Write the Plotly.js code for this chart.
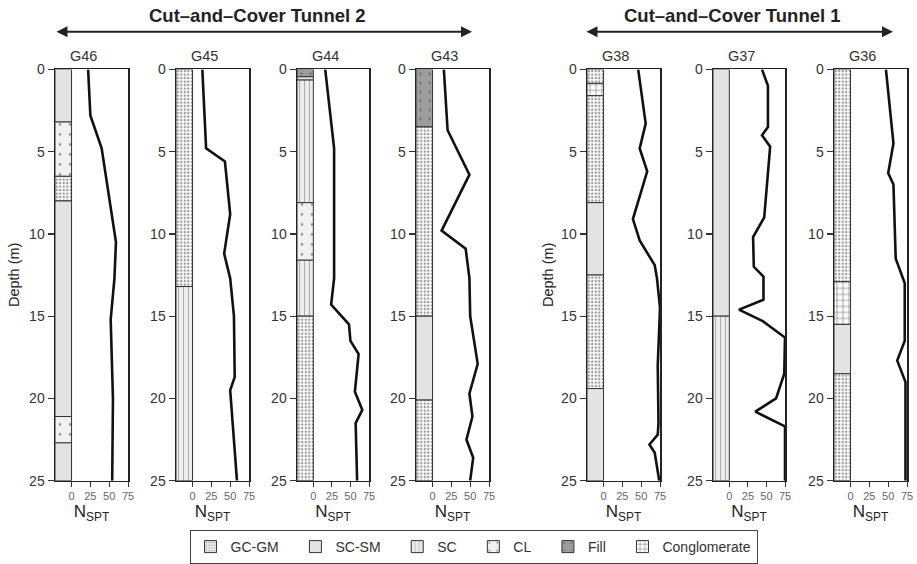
<!DOCTYPE html>
<html><head><meta charset="utf-8">
<script src="https://cdn.plot.ly/plotly-3.0.1.min.js"></script>
<style>html,body{margin:0;padding:0;background:#fff}#chart{width:917px;height:564px}</style>
</head><body><div id="chart"></div>
<script>
const boreholes = ['G46','G45','G44','G43','G38','G37','G36'];
const soilTypes = ['GC-GM','SC-SM','SC','CL','Fill','Conglomerate'];
const depthTicks = [0,5,10,15,20,25];
const nTicks = [0,25,50,75];
const groupTitles = ['Cut–and–Cover Tunnel 2','Cut–and–Cover Tunnel 1'];

// N_SPT profiles (depth in m, N value)
const g46Depth = [0, 2.8, 4.8, 10.5, 12.7, 15.2, 20, 25];
const g46N     = [22, 25, 40, 59, 57, 52, 55, 54];
const g45Depth = [0, 4.8, 5.6, 8.8, 11.2, 12.7, 15, 18.7, 19.5, 25];
const g45N     = [13, 18, 43, 50, 42, 50, 55, 56, 50, 59];
const g44Depth = [0, 4.8, 12.7, 14.3, 15.5, 16.5, 17.3, 19.6, 20.7, 21.5, 25];
const g44N     = [16, 28, 28, 24, 48, 50, 61, 56, 66, 57, 59];
const g43Depth = [0, 3.7, 6.4, 9.8, 10.9, 12.7, 15, 17.9, 19.7, 21.1, 22.5, 23.6, 25];
const g43N     = [15, 20, 49, 12, 44, 49, 50, 60, 49, 53, 45, 54, 50];
const g38Depth = [0, 3.3, 4.8, 6.2, 9.1, 10.4, 11.9, 12.7, 14.5, 18, 21.5, 22.2, 22.8, 23.3, 25];
const g38N     = [46, 56, 48, 58, 39, 48, 68, 71, 75, 72, 73, 72, 61, 68, 74];
const g37Depth = [0, 1, 3.5, 4, 4.7, 9, 10.2, 12, 12.6, 14, 14.6, 15.3, 16.3, 18.5, 20, 20.8, 21.7, 25];
const g37N     = [44, 52, 52, 44, 55, 47, 32, 33, 46, 46, 13, 45, 75, 74, 63, 35, 75, 75];
const g36Depth = [0, 4.5, 6.3, 7, 11.5, 13, 16.5, 17.7, 19, 25];
const g36N     = [47, 57, 50, 57, 60, 72, 72, 62, 73, 73];

// Strata (top, bottom, soil type)
const g46Top = [0, 3.2, 6.5, 8.0, 21.1, 22.7];
const g46Bot = [3.2, 6.5, 8.0, 21.1, 22.7, 25];
const g46Soil = ['SC-SM','CL','GC-GM','SC-SM','CL','SC-SM'];
const g45Top = [0, 13.2];
const g45Bot = [13.2, 25];
const g45Soil = ['GC-GM','SC'];
const g44Top = [0, 0.45, 0.65, 8.1, 11.6, 15];
const g44Bot = [0.45, 0.65, 8.1, 11.6, 15, 25];
const g44Soil = ['Fill','SC-SM','SC','CL','SC','GC-GM'];
const g43Top = [0, 3.5, 15, 20.1];
const g43Bot = [3.5, 15, 20.1, 25];
const g43Soil = ['Fill','GC-GM','SC-SM','GC-GM'];
const g38Top = [0, 0.85, 1.6, 8.1, 12.5, 19.4];
const g38Bot = [0.85, 1.6, 8.1, 12.5, 19.4, 25];
const g38Soil = ['GC-GM','Conglomerate','GC-GM','SC-SM','GC-GM','SC-SM'];
const g37Top = [0, 15];
const g37Bot = [15, 25];
const g37Soil = ['SC-SM','SC'];
const g36Top = [0, 12.9, 15.5, 18.5];
const g36Bot = [12.9, 15.5, 18.5, 25];
const g36Soil = ['GC-GM','Conglomerate','SC-SM','GC-GM'];

const depthSeries = [g46Depth,g45Depth,g44Depth,g43Depth,g38Depth,g37Depth,g36Depth];
const nSeries = [g46N,g45N,g44N,g43N,g38N,g37N,g36N];
const topSeries = [g46Top,g45Top,g44Top,g43Top,g38Top,g37Top,g36Top];
const botSeries = [g46Bot,g45Bot,g44Bot,g43Bot,g38Bot,g37Bot,g36Bot];
const soilSeries = [g46Soil,g45Soil,g44Soil,g43Soil,g38Soil,g37Soil,g36Soil];

// ---- styling ----
const W = 917, H = 564;
const framePx = [[55,128],[176,249],[297,369],[416,489],[587,660],[713,785],[834,907]];
const topPx = 70, botPx = 485;
const xMin = -22;
const colCenter = xMin/2, colWidth = -xMin;
const soilStyle = {
  'GC-GM':        {bg:'#f4f4f4', fg:'#8a8a8a', shape:'.', size:3.5, solidity:0.25},
  'SC-SM':        {bg:'#e3e3e3', fg:'#e3e3e3', shape:'',  size:8,  solidity:0.3},
  'SC':           {bg:'#ededed', fg:'#9a9a9a', shape:'|', size:5,  solidity:0.15},
  'CL':           {bg:'#f1f1f1', fg:'#8a8a8a', shape:'.', size:10, solidity:0.05},
  'Fill':         {bg:'#9d9d9d', fg:'#6f6f6f', shape:'.', size:9,  solidity:0.06},
  'Conglomerate': {bg:'#fbfbfb', fg:'#444444', shape:'+', size:6,  solidity:0.14}
};
const FONT = 'Liberation Sans, Arial, sans-serif';
const nb = '\u00a0';
const legendPad = [3,3,3,3,3,0];

const traces = [];
const layout = {
  width: W, height: H,
  margin: {l:0, r:0, t:0, b:0},
  paper_bgcolor: '#fff', plot_bgcolor: '#fff',
  font: {family: FONT, color: '#222'},
  barmode: 'overlay',
  bargap: 0,
  showlegend: true,
  legend: {
    orientation: 'h', x: 0.5164, xanchor: 'center', y: 1-535/H, yanchor: 'top',
    bordercolor: '#444', borderwidth: 1, font: {size: 14, color: '#333', family: FONT},
    traceorder: 'normal', itemclick: false, itemdoubleclick: false
  },
  annotations: [],
  shapes: []
};

const seenSoil = {};
boreholes.forEach((bh, i) => {
  const n = i + 1;
  const xa = 'x' + (i ? n : ''), ya = 'y' + (i ? n : '');
  const xk = 'xaxis' + (i ? n : ''), yk = 'yaxis' + (i ? n : '');
  layout[xk] = {
    domain: [framePx[i][0]/W, framePx[i][1]/W], anchor: ya,
    range: [xMin, 75], tickvals: nTicks, ticks: 'outside', ticklen: 5, tickcolor: '#333', tickwidth: 1,
    showline: true, mirror: true, linecolor: '#222', linewidth: 1.5,
    showgrid: false, zeroline: false, tickfont: {size: 11, color: '#666', family: FONT},
    title: {text: 'N<sub>SPT</sub>', font: {size: 17, color: '#222', family: FONT}, standoff: 2},
    fixedrange: true
  };
  layout[yk] = {
    domain: [1-botPx/H, 1-topPx/H], anchor: xa,
    range: [25, 0], tickvals: depthTicks, ticks: 'outside', ticklen: 6, tickcolor: '#333', tickwidth: 1.2,
    showline: true, mirror: true, linecolor: '#222', linewidth: 1.5,
    showgrid: false, zeroline: false, tickfont: {size: 14, color: '#333', family: FONT},
    fixedrange: true
  };
  const tops = topSeries[i], bots = botSeries[i], soils = soilSeries[i];
  soils.forEach((s, k) => {
    const st = soilStyle[s];
    const ti = soilTypes.indexOf(s);
    const first = !seenSoil[s];
    seenSoil[s] = true;
    traces.push({
      type: 'bar', xaxis: xa, yaxis: ya,
      x: [colCenter], width: [colWidth], base: [tops[k]], y: [bots[k]-tops[k]],
      name: s + nb.repeat(legendPad[ti]), legendgroup: s, legendrank: ti+1, showlegend: first,
      marker: {
        color: st.bg,
        line: {color: '#333', width: 1},
        pattern: {shape: st.shape, fgcolor: st.fg, bgcolor: st.bg, size: st.size, solidity: st.solidity, fillmode: 'replace'}
      },
      hoverinfo: 'skip'
    });
  });
  traces.push({
    type: 'scatter', mode: 'lines', xaxis: xa, yaxis: ya,
    x: nSeries[i], y: depthSeries[i], showlegend: false,
    line: {color: '#111', width: 2.6}, hoverinfo: 'skip'
  });
  layout.annotations.push({
    xref: xa, yref: 'paper', x: 16, y: 1-57/H, text: bh, showarrow: false,
    font: {size: 14.5, color: '#333', family: FONT}, xanchor: 'center', yanchor: 'middle'
  });
});

[14, 548].forEach(px => {
  layout.annotations.push({
    xref: 'paper', yref: 'paper', x: px/W, y: 1-277.5/H, text: 'Depth (m)', textangle: -90,
    showarrow: false, font: {size: 14.5, color: '#222', family: FONT}, xanchor: 'center', yanchor: 'middle'
  });
});

const titleX = [257, 732];
const arrowPx = [[55, 472], [585, 893]];
groupTitles.forEach((t, g) => {
  layout.annotations.push({
    xref: 'paper', yref: 'paper', x: titleX[g]/W, y: 1-16/H, text: '<b>' + t + '</b>', showarrow: false,
    font: {size: 18.5, color: '#222', family: FONT}, xanchor: 'center', yanchor: 'middle'
  });
  layout.annotations.push({
    xref: 'paper', yref: 'paper', x: arrowPx[g][1]/W, y: 1-32/H, text: '',
    showarrow: true, ax: -(arrowPx[g][1]-arrowPx[g][0]), ay: 0,
    arrowhead: 2, startarrowhead: 2, arrowside: 'end+start', arrowsize: 1.1, startarrowsize: 1.1,
    arrowwidth: 2, arrowcolor: '#222'
  });
});

Plotly.newPlot('chart', traces, layout, {staticPlot: true, displayModeBar: false});
</script>
</body></html>
